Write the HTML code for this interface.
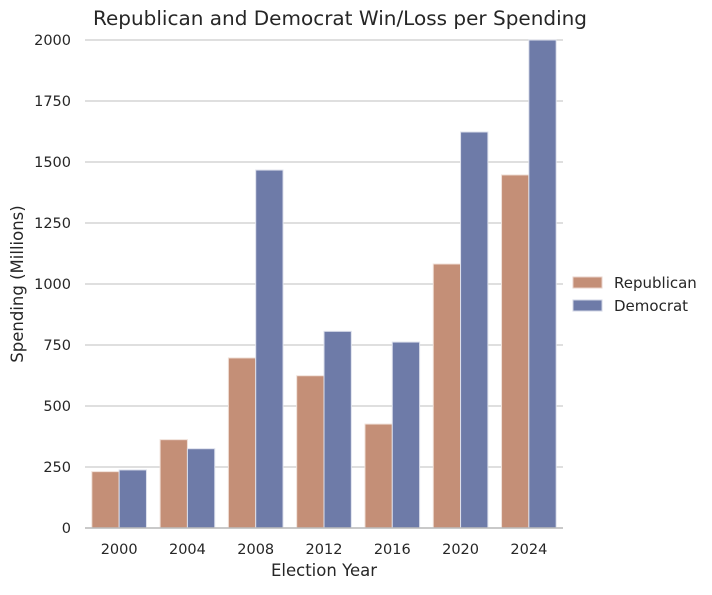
<!DOCTYPE html>
<html><head><meta charset="utf-8"><style>
body{margin:0;background:#fff;font-family:"Liberation Sans","DejaVu Sans",sans-serif}
svg text{font-family:"DejaVu Sans","Liberation Sans",sans-serif;fill:#262626}
</style></head><body>
<svg id="chart" width="712" height="590" viewBox="0 0 712 590" xmlns="http://www.w3.org/2000/svg">
<text x="340" y="25" font-size="19.5" text-anchor="middle" textLength="494" lengthAdjust="spacingAndGlyphs">Republican and Democrat Win/Loss per Spending</text>
<g id="grid"></g><g id="bars"></g><g id="axes"></g>
<text x="324" y="576" font-size="16.5" text-anchor="middle">Election Year</text>
<text transform="translate(23,284) rotate(-90)" font-size="16.5" text-anchor="middle">Spending (Millions)</text>
<g>
<rect x="573" y="277" width="29" height="11" fill="#c48f77" stroke="#e8d2c8"/>
<text x="614" y="288" font-size="15">Republican</text>
<rect x="573" y="300" width="29" height="11" fill="#6e7ba8" stroke="#d0d4e4"/>
<text x="614" y="311" font-size="15">Democrat</text>
</g>
</svg>
<script>
const categories=["2000","2004","2008","2012","2016","2020","2024"];
const republican=[231,362,697,624,426,1082,1447];
const democrat=[238,325,1467,806,762,1623,2000];
const yTicks=[0,250,500,750,1000,1250,1500,1750,2000];
const NS="http://www.w3.org/2000/svg";
const x0=85,x1=563,yBase=528,yTop=40,yMax=2000;
const y=v=>yBase-(v/yMax)*(yBase-yTop);
const band=(x1-x0)/categories.length;
const xc=i=>x0+band*(i+0.5);
function mk(t,a,p){const e=document.createElementNS(NS,t);for(const k in a)e.setAttribute(k,a[k]);p.appendChild(e);return e;}
const grid=document.getElementById('grid'),bars=document.getElementById('bars'),axes=document.getElementById('axes');
yTicks.forEach(v=>{
 const l=mk('line',{x1:x0,x2:x1,y1:y(v),y2:y(v),stroke:'#cccccc','stroke-width':1.2},grid);
 
 
 const t=mk('text',{x:x0-14,y:y(v)+5,'font-size':14.5,'text-anchor':'end'},axes);
 t.textContent=v;
 
 
});
const bw=band*0.4;
categories.forEach((c,i)=>{
 const r=mk('rect',{x:xc(i)-bw,y:y(republican[i]),width:bw,height:yBase-y(republican[i]),fill:'#c48f77',stroke:'#f0e0d8','stroke-width':1},bars);
 
 
 const d=mk('rect',{x:xc(i),y:y(democrat[i]),width:bw,height:yBase-y(democrat[i]),fill:'#6e7ba8',stroke:'#dde0ec','stroke-width':1},bars);
 
 
 const t=mk('text',{x:xc(i),y:554,'font-size':14.5,'text-anchor':'middle'},axes);
 t.textContent=c;
 
 
});
const ax=mk('line',{x1:x0,x2:x1,y1:yBase,y2:yBase,stroke:'#bbbbbb','stroke-width':1.5},axes);


</script>
</body></html>
